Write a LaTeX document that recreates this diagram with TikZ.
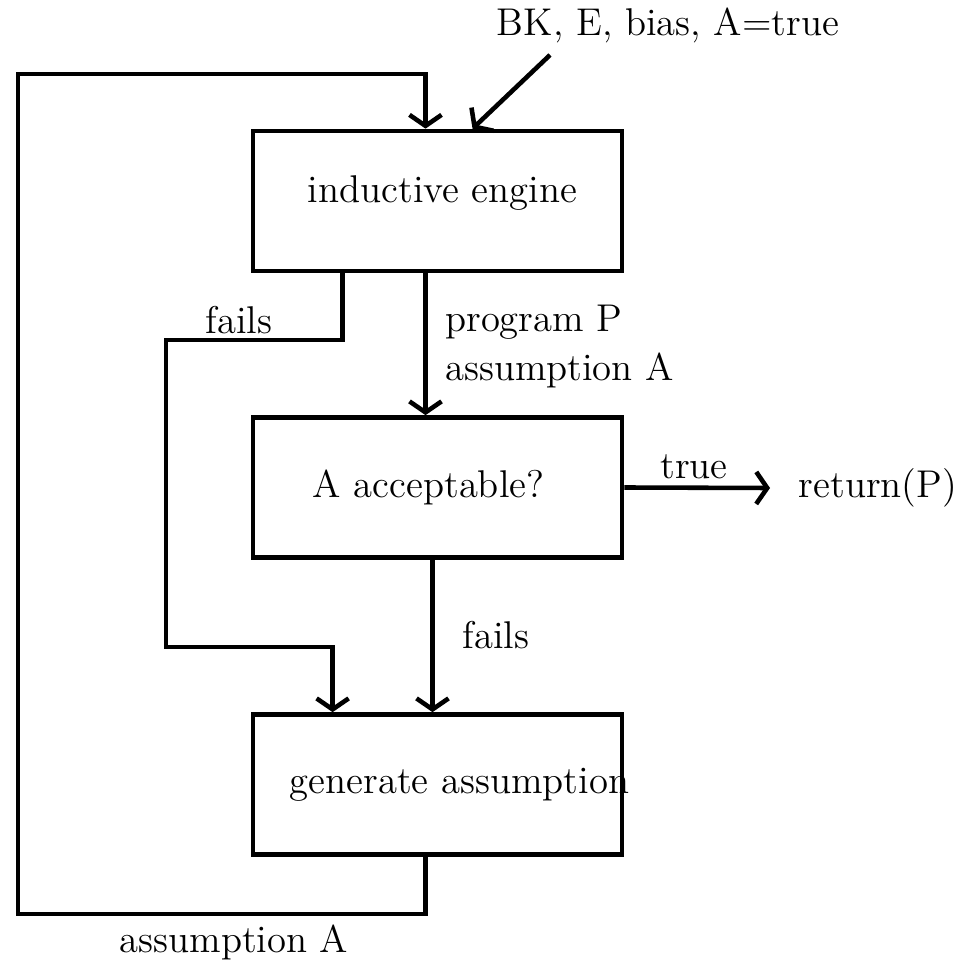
\documentclass[tikz,border=0pt]{standalone}
\usepackage{tikz}
\usetikzlibrary{positioning,calc,arrows.meta}
\tikzset{
  stepBox/.style={
    rectangle,
    draw=black,
    line width=1.3pt,
    minimum width=3.69cm,
    minimum height=1.40cm,
    align=center
  },
  flowLine/.style={
    -{Straight Barb[length=1.1mm,width=3.2mm,line width=1.3pt]},
    line width=1.3pt
  },
  flowText/.style={
    font=\fontsize{11}{13}\selectfont,
    inner sep=1pt
  }
}

\begin{document}
\begin{tikzpicture}[x=0.01cm,y=-0.01cm,every node/.style={font=\fontsize{11}{13}\selectfont}]
        \useasboundingbox (0,0) rectangle (965,962);

        \node[stepBox, label={[xshift=0.05cm,yshift=0.08cm]center:inductive engine}] (engine) at (437.5,201) {};
        \node[stepBox, label={[xshift=-0.09cm]center:A acceptable?}] (accept) at (437.5,487.5) {};
        \node[stepBox, label={[xshift=0.22cm]center:generate assumption}] (genAssume) at (437.5,784.5) {};

        % input from outside
        \node[flowText] (given) at (668,25) {BK, E, bias, A=true};
        \coordinate (givenStart) at (550,55);
        \draw[flowLine] (givenStart) -- ($(engine.north)+(35,0)$);

        % main flow
        \draw[flowLine] ($(engine.south)+(-12,0)$) -- ($(accept.north)+(-12,0)$);
        \node[flowText, anchor=west] (progP) at (441,322) {program P};
        \node[flowText, anchor=west] (assumeA) at (441,370) {assumption A};

        \draw[flowLine] ($(accept.south)+(-5,0)$) -- ($(genAssume.north)+(-5,0)$);
        \node[flowText] (failsB) at (496,635) {fails};

        % success exit
        \node[flowText] (ret) at (878,488) {return(P)};
        \coordinate (retTip) at (770,488);
        \draw[flowLine] (accept.east) -- (retTip);
        \node[flowText] (trueLbl) at (694,467) {true};

        % engine fails
        \coordinate (failTurn) at (166,340);
        \draw[flowLine] ($(engine.south west)+(92,0)$) |- (failTurn)
              -- (166,647) -| ($(genAssume.north west)+(82,0)$);
        \node[flowText] (failsA) at (239,320) {fails};

        % loop back with new assumption
        \coordinate (loopLeft) at (18,74);
        \draw[flowLine] ($(genAssume.south)+(-12,0)$) -- ++(0,57)
              -| (loopLeft) -| ($(engine.north)+(-12,0)$);
        \node[flowText] (assumeB) at (234,942) {assumption A};
    \end{tikzpicture}
\end{document}
